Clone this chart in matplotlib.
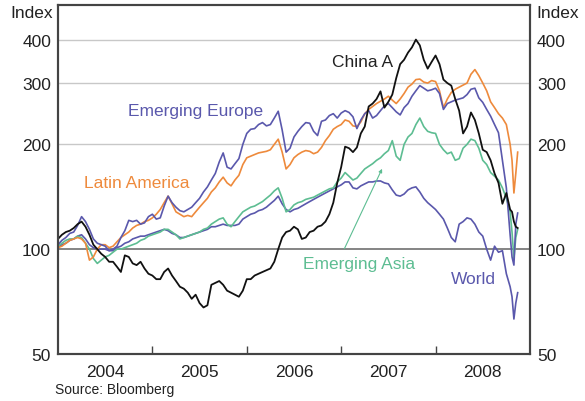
import matplotlib
matplotlib.use('Agg')
import numpy as np
import matplotlib.pyplot as plt
from matplotlib.ticker import FixedLocator, NullLocator, FixedFormatter

plt.rcParams['font.family'] = ['Liberation Sans', 'DejaVu Sans']

# %% data (index, twice a month from Jan 2004, then a few points through the Oct/Nov 2008 crash)
halfmonths = 2004 + np.arange(115) / 24.0
late = [2008.79, 2008.81, 2008.83, 2008.85, 2008.87]
dates = np.concatenate([halfmonths, late])

china_a = [107, 110, 112, 113, 115, 118, 120, 116, 110, 103,
           100, 97, 95, 92, 92, 89, 86, 96, 95, 91,
           90, 92, 88, 85, 84, 82, 82, 86, 88, 84,
           81, 78, 77, 75, 72, 74, 70, 68, 69, 79,
           80, 81, 79, 76, 75, 74, 73, 76, 82, 82,
           84, 85, 86, 87, 88, 92, 100, 108, 112, 113,
           116, 114, 107, 108, 112, 113, 116, 117, 120, 126,
           136, 155, 172, 197, 195, 190, 196, 215, 225, 257,
           262, 270, 284, 255, 265, 278, 310, 340, 350, 367,
           380, 400, 385, 350, 330, 345, 360, 340, 307, 300,
           295, 270, 250, 215, 225, 247, 235, 215, 193, 190,
           180, 165, 155, 135, 145,
           130, 128, 120, 116, 115]
em_europe = [103, 106, 108, 111, 112, 117, 124, 120, 114, 107,
             104, 103, 102, 99, 100, 102, 108, 113, 121, 120,
             121, 118, 119, 124, 126, 122, 123, 133, 142, 136,
             132, 129, 128, 130, 132, 136, 140, 146, 151, 158,
             165, 178, 189, 172, 170, 176, 182, 200, 215, 221,
             222, 228, 231, 226, 228, 238, 249, 220, 190, 195,
             210, 218, 225, 231, 230, 218, 212, 233, 235, 242,
             245, 238, 246, 250, 247, 240, 222, 235, 245, 250,
             238, 242, 250, 258, 262, 255, 248, 243, 255, 262,
             275, 285, 295, 290, 285, 287, 290, 280, 252, 262,
             265, 268, 270, 272, 278, 288, 290, 272, 264, 252,
             241, 228, 216, 180, 150,
             110, 95, 90, 118, 127]
latin_am = [101, 102, 104, 106, 107, 108, 107, 104, 93, 95,
            100, 103, 103, 101, 102, 105, 108, 110, 112, 115,
            117, 118, 120, 121, 123, 126, 130, 136, 142, 135,
            128, 126, 124, 125, 124, 128, 132, 136, 140, 146,
            150, 156, 161, 155, 152, 158, 163, 175, 183, 185,
            187, 189, 190, 191, 193, 200, 207, 190, 170, 175,
            183, 187, 190, 192, 191, 188, 190, 196, 205, 212,
            221, 225, 228, 235, 233, 226, 225, 232, 245, 252,
            257, 262, 266, 270, 275, 268, 262, 270, 280, 292,
            298, 307, 308, 302, 300, 305, 303, 285, 255, 270,
            282, 288, 292, 296, 300, 318, 328, 315, 300, 285,
            265, 255, 245, 238, 228,
            200, 180, 145, 165, 190]
em_asia = [102, 104, 106, 107, 107, 109, 108, 104, 100, 94,
           91, 93, 95, 96, 98, 100, 100, 101, 102, 103,
           104, 106, 107, 109, 110, 111, 112, 114, 114, 112,
           110, 107, 108, 109, 110, 111, 112, 114, 115, 118,
           120, 122, 123, 118, 116, 120, 124, 128, 130, 132,
           133, 135, 137, 140, 143, 147, 150, 140, 128, 130,
           134, 136, 137, 139, 140, 141, 143, 145, 147, 149,
           150, 156, 160, 166, 162, 158, 160, 165, 170, 173,
           176, 180, 183, 188, 192, 205, 185, 180, 200, 210,
           215, 228, 238, 225, 218, 216, 215, 200, 193, 188,
           190, 180, 182, 195, 200, 207, 205, 195, 180, 175,
           166, 162, 158, 150, 140,
           128, 112, 94, 108, 114]
world = [101, 103, 104, 106, 107, 109, 110, 107, 103, 101,
         100, 100, 100, 99, 99, 101, 102, 104, 105, 107,
         108, 109, 109, 110, 111, 112, 113, 114, 113, 111,
         110, 108, 108, 109, 110, 111, 112, 113, 114, 116,
         116, 117, 118, 117, 117, 117, 118, 122, 124, 126,
         127, 129, 130, 132, 135, 138, 142, 135, 130, 128,
         130, 131, 133, 135, 137, 139, 141, 143, 145, 147,
         149, 151, 153, 156, 156, 150, 149, 152, 154, 156,
         156, 157, 157, 155, 154, 148, 143, 142, 144, 148,
         150, 151, 146, 140, 136, 133, 130, 126, 122, 115,
         108, 105, 118, 120, 123, 122, 118, 112, 109, 100,
         93, 102, 98, 99, 85,
         78, 73, 63, 70, 75]

yticks = [50, 100, 200, 300, 400]
years = [2004, 2005, 2006, 2007, 2008]

purple = '#5a58ac'
orange = '#ee8a3c'
green = '#5dbd92'
txt = '#222222'

# %%
fig = plt.figure(figsize=(5.85, 4.02), dpi=100)
ax = fig.add_axes([0.0991, 0.117, 0.8068, 0.869])

for y in [200, 300, 400]:
    ax.axhline(y, color='#c8c8c8', lw=1.0, zorder=1)
ax.axhline(100, color='#707070', lw=1.2, zorder=1)

ax.plot(dates, world, color=purple, lw=1.2, zorder=3)
ax.plot(dates, em_asia, color=green, lw=1.2, zorder=3)
ax.plot(dates, latin_am, color=orange, lw=1.2, zorder=4)
ax.plot(dates, em_europe, color=purple, lw=1.2, zorder=4)
ax.plot(dates, china_a, color='#111111', lw=1.3, zorder=5)

ax.set_yscale('log')
ax.set_ylim(50, 504)
ax.set_xlim(2004, 2009)

ax2 = ax.twinx()
ax2.set_yscale('log')
ax2.set_ylim(50, 504)
for a in (ax, ax2):
    a.yaxis.set_major_locator(FixedLocator(yticks))
    a.yaxis.set_minor_locator(NullLocator())
    a.yaxis.set_major_formatter(FixedFormatter([str(v) for v in yticks]))
    a.tick_params(axis='y', length=0, labelsize=12.5, colors=txt, pad=5)
    for s in a.spines.values():
        s.set_color('#444444')
        s.set_linewidth(1.5)

ax.set_xticks([2005, 2006, 2007, 2008])
ax.set_xticklabels([])
ax.set_xticks([y + 0.5 for y in years], minor=True)
ax.set_xticklabels([str(y) for y in years], minor=True)
ax.tick_params(axis='x', which='major', direction='in', length=6, width=1, color='#444444')
ax.tick_params(axis='x', which='minor', length=0, labelsize=12.5, colors=txt, pad=7)

fig.text(53 / 585, 1 - 13 / 402, 'Index', ha='right', va='center', fontsize=12.5, color=txt)
fig.text(536 / 585, 1 - 13 / 402, 'Index', ha='left', va='center', fontsize=12.5, color=txt)

ax.text(2006.9, 345, 'China A', color=txt, fontsize=12.5, va='center')
ax.text(2004.74, 250, 'Emerging Europe', color=purple, fontsize=12.5, va='center')
ax.text(2004.28, 155, 'Latin America', color=orange, fontsize=12.5, va='center')
ax.text(2006.60, 91, 'Emerging Asia', color=green, fontsize=12.5, va='center')
ax.text(2008.16, 82.5, 'World', color=purple, fontsize=12.5, va='center')
ax.annotate('', xy=(2007.446, 173), xytext=(2007.022, 98.7),
            arrowprops=dict(arrowstyle='-|>', color=green, lw=0.8, mutation_scale=5))

fig.text(55 / 585, 1 - 390 / 402, 'Source: Bloomberg', fontsize=10, color=txt, va='center')

fig.savefig('out.png', dpi=100)
